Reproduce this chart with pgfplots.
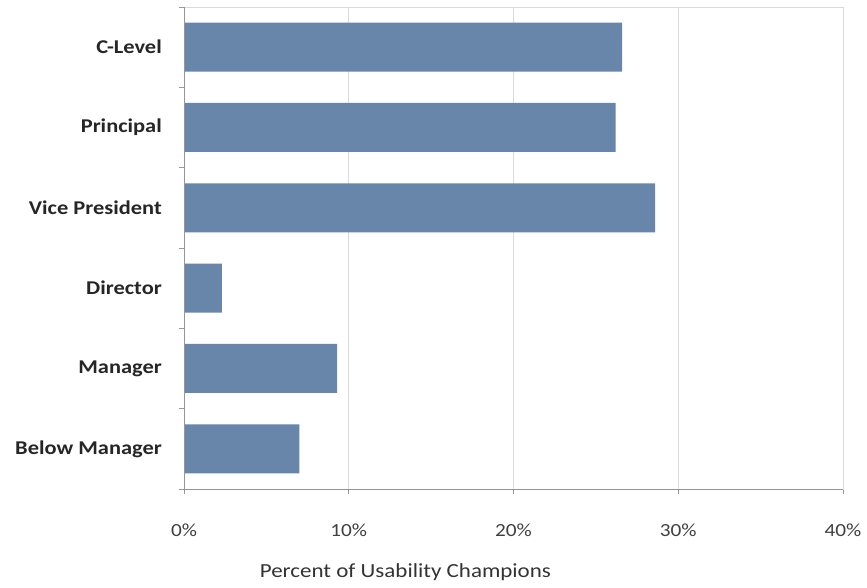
\documentclass[border=0pt]{standalone}
\usepackage{pgfplots}
\pgfplotsset{compat=1.18}
\usepackage{fontspec}
\setmainfont{Carlito}[FakeStretch=1.15]
\definecolor{barblue}{RGB}{104,134,169}
\definecolor{axisgray}{RGB}{150,150,150}
\definecolor{gridgray}{RGB}{217,217,217}
\begin{document}
\begin{tikzpicture}[x=1pt,y=1pt]
\path (0,0) rectangle (867,588);
\begin{axis}[
  at={(184pt,99pt)}, anchor=south west,
  scale only axis, width=659pt, height=482pt,
  xmin=0, xmax=40, ymin=-0.5, ymax=5.5,
  xbar, bar width=49pt,
  xtick={0,10,20,30,40},
  xticklabels={0\%,10\%,20\%,30\%,40\%},
  ytick={0,1,2,3,4,5},
  yticklabels={Below Manager,Manager,Director,Vice President,Principal,C-Level},
  minor ytick={-0.5,0.5,1.5,2.5,3.5,4.5,5.5},
  xmajorgrids, grid style={gridgray, line width=0.8pt},
  axis line style={gridgray, line width=0.8pt},
  tick align=outside,
  x tick style={axisgray, line width=0.8pt},
  y tick style={axisgray, line width=0.8pt},
  major tick length=5pt,
  minor tick length=5pt,
  every major y tick/.append style={draw=none},
  xtick pos=bottom, ytick pos=left,
  yticklabel style={font=\fontsize{19.5}{22}\selectfont\bfseries, text=black!85, inner sep=0pt, xshift=-17pt},
  xticklabel style={font=\fontsize{18.5}{20}\selectfont, text=black!75, anchor=center, inner sep=0pt, yshift=-36pt},
  xlabel={Percent of Usability Champions},
  xlabel style={font=\fontsize{20}{22}\selectfont, text=black!80, at={(rel axis cs:0.336,0)}, anchor=center, inner sep=0pt, yshift=-83pt},
  after end axis/.code={
    \draw[axisgray, line width=0.8pt] (rel axis cs:0,0) -- (rel axis cs:0,1);
    \draw[axisgray, line width=0.8pt] (rel axis cs:0,0) -- (rel axis cs:1,0);
  },
]
\addplot[fill=barblue, draw=none] coordinates {
  (7.0,0) (9.3,1) (2.3,2) (28.6,3) (26.2,4) (26.6,5)
};
\end{axis}
\end{tikzpicture}
\end{document}
